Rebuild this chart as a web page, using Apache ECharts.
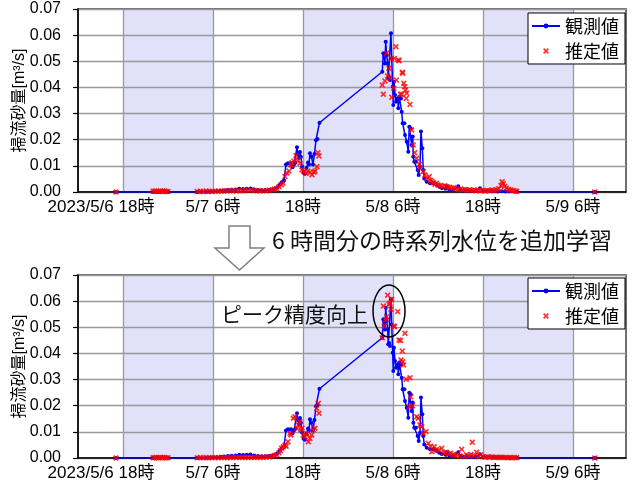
<!DOCTYPE html>
<html>
<head>
<meta charset="utf-8">
<script src="https://cdn.jsdelivr.net/npm/echarts@6/dist/echarts.min.js"></script>
<style>
  html, body { margin: 0; padding: 0; background: #fff; }
  #chart { width: 637px; height: 484px; }
</style>
</head>
<body>
<div id="chart"></div>
<script>
// x = hours since 2023/5/6 0:00
const timeTicks = [18, 30, 42, 54, 66, 78];
const tickLabels = ['2023/5/6 18時', '5/7 6時', '18時', '5/8 6時', '18時', '5/9 6時'];
const nightBands = [[18, 30], [42, 54], [66, 78]];

// observed (blue line) - same on both panels
const observed = [
  [17.07, 0], [22.0, 0], [22.5, 0], [23.0, 0], [23.5, 0], [24.0, 0],
  [27.9, 0], [28.5, 0], [29.0, 0], [29.5, 0.0001], [30.0, 0.0002], [30.5, 0.0003], [31.0, 0.0005], [31.5, 0.0006],
  [32.0, 0.0008], [32.5, 0.0009], [33.0, 0.001], [33.5, 0.0012], [34.0, 0.0011], [34.5, 0.0012], [35.0, 0.0013],
  [35.5, 0.001], [36.0, 0.0008], [36.5, 0.0007], [37.0, 0.0007], [37.5, 0.0008], [38.0, 0.0009], [38.3, 0.0012],
  [38.6, 0.0018], [38.9, 0.0028], [39.15, 0.0036], [39.33, 0.0039], [39.47, 0.0045],
  [39.73, 0.0105], [40.0, 0.011], [40.2, 0.0108], [40.4, 0.011], [40.6, 0.0095], [40.8, 0.0105], [41.0, 0.0112],
  [41.2, 0.0171], [41.33, 0.0145], [41.47, 0.013], [41.6, 0.0153], [41.73, 0.0135], [41.87, 0.0098], [42.07, 0.0074],
  [42.27, 0.007], [42.47, 0.0092], [42.67, 0.0113], [42.8, 0.0105], [42.93, 0.0148], [43.13, 0.0135], [43.33, 0.0105],
  [43.53, 0.0145], [43.73, 0.0198], [43.93, 0.0203], [44.2, 0.0265],
  [52.57, 0.046], [52.71, 0.0531], [52.84, 0.052], [52.93, 0.0492], [53.03, 0.0575], [53.16, 0.0524], [53.29, 0.0492],
  [53.37, 0.0435], [53.49, 0.044], [53.6, 0.0428], [53.73, 0.0607], [53.83, 0.0511], [53.96, 0.0403], [54.04, 0.0333],
  [54.13, 0.0422], [54.27, 0.0371], [54.4, 0.0345], [54.63, 0.0358], [54.71, 0.032], [54.84, 0.0365], [55.07, 0.0358],
  [55.16, 0.0307], [55.29, 0.0263], [55.51, 0.0263], [55.6, 0.0218], [55.83, 0.0192], [56.04, 0.0154], [56.17, 0.025],
  [56.36, 0.0244], [56.49, 0.018], [56.63, 0.0212], [56.71, 0.0135], [56.84, 0.0116], [57.07, 0.0116], [57.29, 0.0084],
  [57.43, 0.0065], [57.6, 0.0097], [57.73, 0.0231], [57.91, 0.0167], [58.04, 0.0084], [58.17, 0.0052], [58.49, 0.0039],
  [58.93, 0.0033], [59.37, 0.0033], [59.83, 0.0027], [60.17, 0.002],
  [60.5, 0.0015], [61.0, 0.0012], [61.2, 0.0022], [61.5, 0.001], [62.0, 0.0008], [62.7, 0.0022], [63.0, 0.0008],
  [63.5, 0.0005], [64.0, 0.0006], [64.5, 0.0004], [65.0, 0.0005], [65.6, 0.0014], [66.0, 0.0005], [66.5, 0.0003],
  [67.0, 0.0004], [67.5, 0.0003], [68.0, 0.0002], [68.5, 0.0003], [69.0, 0.0002], [69.5, 0.0002], [70.5, 0.0001],
  [80.9, 0]
];

// estimated (red x) - upper panel
const estimatedTop = [
  [17.07, 0], [22.0, 0.0003], [22.25, 0.0004], [22.5, 0.0003], [22.75, 0.0002], [23.0, 0.0004], [23.25, 0.0003],
  [23.5, 0.0004], [23.75, 0.0003], [24.0, 0.0002],
  [27.9, 0.0002], [28.3, 0.0003], [28.7, 0.0002], [29.1, 0.0004], [29.5, 0.0003], [29.9, 0.0002], [30.3, 0.0003],
  [30.7, 0.0004], [31.1, 0.0003], [31.5, 0.0005], [31.9, 0.0004], [32.3, 0.0006], [32.7, 0.0005], [33.1, 0.0004],
  [33.5, 0.0006], [33.9, 0.0005], [34.3, 0.0007], [34.7, 0.0006], [35.1, 0.0008], [35.5, 0.0006], [35.9, 0.0005],
  [36.3, 0.0004], [36.7, 0.0006], [37.1, 0.0005], [37.5, 0.0007], [37.9, 0.0009], [38.2, 0.0011], [38.5, 0.0013],
  [38.8, 0.002], [39.1, 0.0028], [39.33, 0.0034], [39.6, 0.0059], [39.87, 0.0073], [40.13, 0.008], [40.4, 0.0103],
  [40.53, 0.0112], [40.8, 0.0118], [41.07, 0.0139], [41.33, 0.0122], [41.6, 0.011], [41.87, 0.0084], [42.13, 0.0078],
  [42.4, 0.0072], [42.67, 0.008], [42.93, 0.0075], [43.2, 0.0066], [43.47, 0.0076], [43.6, 0.008], [43.87, 0.0097],
  [44.0, 0.015], [44.13, 0.0138],
  [52.57, 0.0409], [52.71, 0.0374], [52.93, 0.0425], [53.16, 0.0531], [53.29, 0.0444], [53.47, 0.0473], [53.6, 0.0435],
  [53.76, 0.051], [53.84, 0.0362], [54.11, 0.0397], [54.17, 0.0511], [54.4, 0.0556], [54.44, 0.0428], [54.71, 0.0505],
  [54.8, 0.0502], [55.0, 0.0374], [55.16, 0.0374], [55.24, 0.0458], [55.29, 0.0454], [55.44, 0.0416], [55.57, 0.0403],
  [55.67, 0.039], [55.76, 0.0358], [55.83, 0.0378], [56.27, 0.0335], [56.49, 0.0237], [56.7, 0.018], [56.9, 0.015],
  [57.16, 0.0129], [57.51, 0.0106], [57.6, 0.0091], [58.04, 0.0078], [58.27, 0.0065], [58.49, 0.0052], [58.84, 0.0059],
  [59.0, 0.0045], [59.2, 0.004], [59.4, 0.0035], [59.6, 0.003], [59.8, 0.0033], [60.0, 0.0027], [60.3, 0.0025],
  [60.6, 0.0022], [60.9, 0.0024], [61.2, 0.002], [61.5, 0.0018], [61.8, 0.0015], [62.1, 0.0016], [62.4, 0.0012],
  [62.7, 0.001], [63.0, 0.0011], [63.3, 0.0008], [63.6, 0.001], [63.9, 0.0007], [64.2, 0.0009], [64.5, 0.0006],
  [64.8, 0.0008], [65.1, 0.0005], [65.4, 0.0007], [65.7, 0.0005], [66.0, 0.0006], [66.3, 0.0004], [66.6, 0.0006],
  [66.9, 0.0005], [67.2, 0.0008], [67.5, 0.0006], [67.8, 0.0009], [68.1, 0.0012], [68.4, 0.0025], [68.55, 0.0039],
  [68.7, 0.0032], [68.9, 0.0022], [69.1, 0.0015], [69.4, 0.001], [69.7, 0.0008], [70.0, 0.0006], [70.3, 0.0004],
  [70.5, 0.0003], [80.9, 0]
];

// estimated (red x) - lower panel, after adding 6h water level history
const estimatedBottom = [
  [17.07, 0], [22.0, 0.0001], [22.25, 0.0002], [22.5, 0.0001], [22.75, 0.0001], [23.0, 0.0002], [23.25, 0.0001],
  [23.5, 0.0002], [23.75, 0.0001], [24.0, 0.0001],
  [27.9, 0.0001], [28.3, 0.0002], [28.7, 0.0001], [29.1, 0.0002], [29.5, 0.0001], [29.9, 0.0001], [30.3, 0.0002],
  [30.7, 0.0001], [31.1, 0.0002], [31.5, 0.0002], [31.9, 0.0001], [32.3, 0.0002], [32.7, 0.0003], [33.1, 0.0002],
  [33.5, 0.0003], [33.9, 0.0002], [34.3, 0.0003], [34.7, 0.0002], [35.1, 0.0003], [35.5, 0.0002], [35.9, 0.0003],
  [36.3, 0.0002], [36.7, 0.0003], [37.1, 0.0004], [37.5, 0.0005], [37.9, 0.0007], [38.2, 0.001], [38.5, 0.0013],
  [38.8, 0.002], [39.0, 0.0028], [39.16, 0.0037], [39.38, 0.0043], [39.6, 0.005], [39.75, 0.0045], [40.0, 0.0062],
  [40.27, 0.0094], [40.4, 0.0088], [40.71, 0.0152], [40.93, 0.0158], [41.16, 0.0114], [41.37, 0.0126], [41.6, 0.0139],
  [41.73, 0.0107], [41.87, 0.0115], [42.04, 0.0088], [42.27, 0.0081], [42.49, 0.0094], [42.71, 0.0062], [42.93, 0.0075],
  [43.16, 0.0088], [43.37, 0.0107], [43.6, 0.0114], [43.83, 0.019], [44.04, 0.0209], [44.13, 0.0171],
  [52.57, 0.046], [52.71, 0.0581], [52.84, 0.0505], [53.03, 0.0528], [53.16, 0.054], [53.29, 0.0623], [53.47, 0.0588],
  [53.6, 0.0592], [53.73, 0.0569], [53.83, 0.0607], [54.13, 0.0505], [54.2, 0.0502], [54.63, 0.056], [54.8, 0.0451],
  [55.02, 0.0449], [55.07, 0.0375], [55.24, 0.0409], [55.3, 0.0368], [55.4, 0.0356], [55.6, 0.0477], [55.76, 0.0301],
  [56.17, 0.0196], [56.27, 0.0307], [56.36, 0.0234], [56.6, 0.02], [57.16, 0.0158], [57.37, 0.0152], [57.6, 0.0126],
  [57.83, 0.012], [58.04, 0.0094], [58.4, 0.0101], [58.71, 0.0056], [59.0, 0.0045], [59.2, 0.0024], [59.5, 0.0043],
  [59.8, 0.0032], [60.1, 0.003], [60.5, 0.0037], [60.8, 0.002], [61.1, 0.0022], [61.4, 0.0015], [61.7, 0.0018],
  [62.0, 0.0012], [62.3, 0.001], [62.6, 0.0013], [62.9, 0.0008], [63.16, 0.0033], [63.5, 0.0006], [63.8, 0.0012],
  [64.1, 0.0009], [64.4, 0.0014], [64.57, 0.006], [64.8, 0.001], [65.16, 0.0022], [65.4, 0.0005], [65.7, 0.0012],
  [66.0, 0.0006], [66.3, 0.0003], [66.6, 0.0005], [66.9, 0.0003], [67.2, 0.0004], [67.5, 0.0002], [67.8, 0.0003],
  [68.1, 0.0002], [68.4, 0.0003], [68.7, 0.0002], [69.0, 0.0002], [69.3, 0.0001], [69.6, 0.0002], [69.9, 0.0001],
  [70.2, 0.0002], [70.5, 0.0001], [80.9, 0]
];

const FONT = '"Liberation Sans", "Noto Sans CJK JP", sans-serif';
const JP_FONT = '"Noto Sans CJK JP", sans-serif';
// bold "x" marker
const X_MARK = 'path://M0,2L2,0L5,3L8,0L10,2L7,5L10,8L8,10L5,7L2,10L0,8L3,5Z';

const panels = [
  { top: 9, legendTop: 13, est: estimatedTop },
  { top: 275, legendTop: 278, est: estimatedBottom }
];

const grids = [], xAxes = [], yAxes = [], series = [], legends = [];

panels.forEach((p, i) => {
  grids.push({
    left: 78, top: p.top, width: 548, height: 183,
    outerBoundsMode: 'none',
    show: true, borderColor: '#404040', borderWidth: 1.5, backgroundColor: 'transparent'
  });
  xAxes.push({
    type: 'value', gridIndex: i, min: 12, max: 85.07,
    axisLine: { show: true, onZero: false, lineStyle: { color: '#000', width: 1.5 } },
    axisTick: { show: false },
    splitLine: { show: false },
    axisLabel: {
      customValues: timeTicks,
      margin: 7,
      fontFamily: FONT, fontSize: 17, color: '#000',
      formatter: v => {
        const idx = timeTicks.indexOf(v);
        if (idx === 0) return '{first|' + tickLabels[0] + '}';
        return idx >= 0 ? tickLabels[idx] : '';
      },
      rich: { first: { fontFamily: FONT, fontSize: 17, color: '#000', padding: [0, 44, 0, 0] } }
    }
  });
  yAxes.push({
    type: 'value', gridIndex: i, min: 0, max: 0.07, interval: 0.01,
    name: '掃流砂量[m³/s]', nameLocation: 'middle', nameGap: 50, nameMoveOverlap: false,
    nameTextStyle: { fontFamily: FONT, fontSize: 16, color: '#000' },
    axisLine: { show: true, lineStyle: { color: '#000', width: 1.5 } },
    axisTick: { show: true, length: 5, lineStyle: { color: '#000', width: 1.2 } },
    splitLine: { show: true, lineStyle: { color: '#999', width: 1.3 } },
    axisLabel: {
      margin: 17, fontFamily: FONT, fontSize: 16, color: '#000',
      formatter: v => v.toFixed(2)
    }
  });
  series.push({
    name: '観測値', type: 'line', xAxisIndex: i, yAxisIndex: i,
    data: observed,
    color: '#0000ff',
    lineStyle: { color: '#0000ff', width: 1.5 },
    symbol: 'circle', symbolSize: 4, showSymbol: true,
    itemStyle: { color: '#0000ff' },
    animation: false, z: 3,
    markArea: {
      silent: true, z: -2,
      itemStyle: { color: '#e1e1fa' },
      data: nightBands.map(b => [{ xAxis: b[0] }, { xAxis: b[1] }])
    },
    markLine: {
      silent: true, z: -1, symbol: ['none', 'none'],
      label: { show: false },
      lineStyle: { color: '#999', width: 1.3, type: 'solid' },
      data: timeTicks.map(t => ({ xAxis: t }))
    }
  });
  series.push({
    name: '推定値', type: 'scatter', xAxisIndex: i, yAxisIndex: i,
    data: p.est,
    symbol: X_MARK, symbolSize: 6,
    itemStyle: { color: '#ff0000' },
    animation: false, z: 4
  });
  legends.push({
    left: 528, top: p.legendTop, orient: 'vertical',
    data: ['観測値', '推定値'],
    selectedMode: false,
    backgroundColor: '#fff', borderColor: '#000', borderWidth: 1,
    padding: [4, 6, 4, 3], itemGap: 7,
    itemWidth: 28, itemHeight: 6,
    textStyle: { fontFamily: JP_FONT, fontSize: 18, color: '#000' }
  });
});

const chart = echarts.init(document.getElementById('chart'));
chart.setOption({
  animation: false,
  backgroundColor: '#fff',
  grid: grids,
  xAxis: xAxes,
  yAxis: yAxes,
  legend: legends,
  series: series,
  graphic: [
    {
      type: 'polygon', z: 10,
      shape: { points: [[229, 226], [250, 226], [250, 248], [264, 248], [239.5, 270], [215, 248], [229, 248]] },
      style: { fill: '#fff', stroke: '#808080', lineWidth: 1.5 }
    },
    {
      type: 'text', left: 272, top: 229, z: 10,
      style: { text: '6 時間分の時系列水位を追加学習', font: '23px ' + JP_FONT, fill: '#111' }
    },
    {
      type: 'text', left: 221, top: 304, z: 10,
      style: { text: 'ピーク精度向上', font: '21px ' + JP_FONT, fill: '#111' }
    },
    {
      type: 'ellipse', z: 10,
      shape: { cx: 389, cy: 311, rx: 16, ry: 26 },
      style: { fill: 'none', stroke: '#000', lineWidth: 1.5 }
    }
  ]
});
</script>
</body>
</html>
